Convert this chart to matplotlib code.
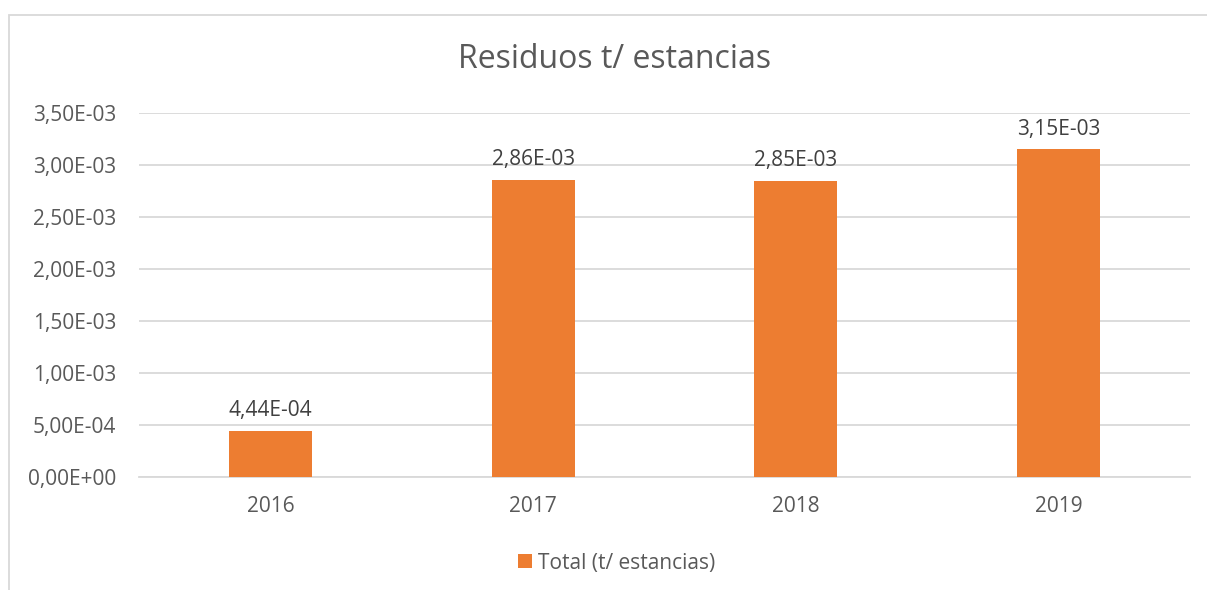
import matplotlib.pyplot as plt
from matplotlib.patches import Rectangle

years = ["2016", "2017", "2018", "2019"]
values = [4.44e-4, 2.86e-3, 2.85e-3, 3.15e-3]
yticks = [0, 0.5e-3, 1.0e-3, 1.5e-3, 2.0e-3, 2.5e-3, 3.0e-3, 3.5e-3]

orange = "#ED7D31"
grey_text = "#595959"
grid_col = "#D9D9D9"

plt.rcParams["font.family"] = ["Open Sans", "DejaVu Sans"]


def sci_comma(v):
    return f"{v:.2E}".replace(".", ",")


fig = plt.figure(figsize=(12.07, 5.90), dpi=100)
# chart border (cropped on right/bottom)
fig.patches.append(Rectangle((9 / 1207, -0.1), 1.2, 1.1 - 15 / 590, transform=fig.transFigure,
                             fill=False, edgecolor=grid_col, linewidth=1.3))

ax = fig.add_axes([139 / 1207, 1 - 477 / 590, (1190 - 139) / 1207, (477 - 113) / 590])
x = range(len(years))
bars = ax.bar(x, values, width=0.316, color=orange, label="Total (t/ estancias)", zorder=3)

ax.set_xlim(-0.5, len(years) - 0.5)
ax.set_ylim(0, 3.5e-3)
ax.set_yticks(yticks)
ax.set_yticklabels([sci_comma(v) for v in yticks])
ax.set_xticks(list(x))
ax.set_xticklabels(years)
ax.tick_params(axis="both", length=0, labelsize=15, colors=grey_text)
ax.tick_params(axis="y", pad=16.5)
ax.tick_params(axis="x", pad=14)
ax.grid(axis="y", color=grid_col, linewidth=1.3, zorder=0)
for s in ["top", "right", "left"]:
    ax.spines[s].set_visible(False)
ax.spines["bottom"].set_color(grid_col)
ax.spines["bottom"].set_linewidth(1.3)

for b, v in zip(bars, values):
    ax.annotate(sci_comma(v), (b.get_x() + b.get_width() / 2, v), xytext=(0, 7),
                textcoords="offset points", ha="center", va="bottom",
                fontsize=15, color="#404040")

fig.text(615 / 1207, 1 - 60 / 590, "Residuos t/ estancias", ha="center", va="center",
         fontsize=23, color=grey_text)

fig.legend(handles=[bars], labels=["Total (t/ estancias)"], loc="center",
           bbox_to_anchor=(617 / 1207, 1 - 563 / 590), frameon=False, fontsize=15,
           labelcolor=grey_text, handlelength=0.65, handleheight=0.65, handletextpad=0.3)

fig.savefig("out.png", dpi=100)
